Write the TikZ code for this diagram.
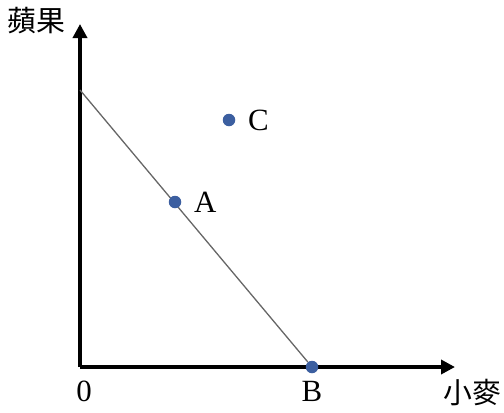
\documentclass[tikz,border=0pt]{standalone}
\usepackage{fontspec}
\setmainfont{Liberation Serif}
\newfontfamily\cjk{Noto Sans CJK TC}
\usetikzlibrary{arrows.meta}

\begin{document}
\begin{tikzpicture}[
                x=1bp, y=-1bp,
                Axis/.style={line width=3.5bp, -{Triangle[length=14bp, width=14bp]}},
                Budget/.style={draw=black!60, line width=1.3bp},
                Dot/.style={circle, fill=dotblue, inner sep=0pt, minimum size=12.5bp},
                Lbl/.style={font=\fontsize{31}{34}\selectfont, inner sep=0pt},
            ]
            \definecolor{dotblue}{RGB}{60,95,160}
            \useasboundingbox (0,0) rectangle (504,412);

            \coordinate (0) at (80,367);
            \coordinate (ytip) at (80,24);
            \coordinate (xtip) at (455,367);
            \coordinate (yint) at (80,90);

            \draw[Axis] (0) -- (ytip);
            \draw[Axis] (0) -- (xtip);

            \node [Dot] (B) at (312,367) {};
            \draw[Budget] (yint) -- (B);
            \node [Dot] (A) at (175,202) {};
            \node [Dot] (C) at (229,120) {};

            \node [Lbl, right=19bp] (Alabel) at (A) {A};
            \node [Lbl, right=19bp] (Clabel) at (C) {C};
            \node [Lbl, below=14bp] (Blabel) at (B) {B};
            \node [Lbl] (zero) at (84,391) {0};
            \node [Lbl, font=\cjk\fontsize{29}{32}\selectfont] (apple) at (36,21) {蘋果};
            \node [Lbl, font=\cjk\fontsize{29}{32}\selectfont] (wheat) at (472,393) {小麥};
        \end{tikzpicture}
\end{document}
